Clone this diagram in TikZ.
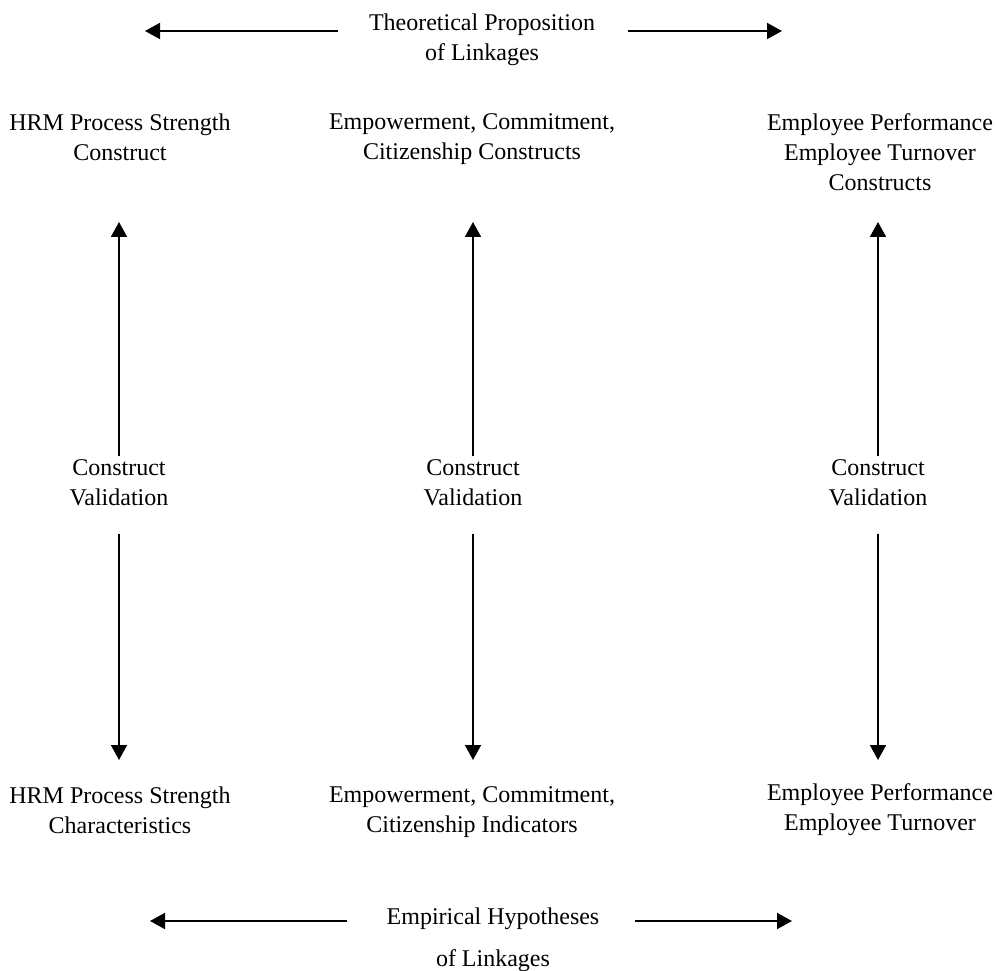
\documentclass[tikz,border=0pt]{standalone}
\usepackage{fontspec}
\setmainfont{Liberation Serif}
\usetikzlibrary{arrows.meta}
\tikzset{
  label/.style={align=center, font=\fontsize{24}{30}\selectfont},
  link/.style={-{Triangle[length=15pt,width=16pt]}, line width=1.8pt}
}
\begin{document}
\begin{tikzpicture}[x=1pt,y=-1pt]
			\useasboundingbox (0,0) rectangle (997,971);
			% linkage titles
			\node[label] (theo) at (482,40)	{Theoretical Proposition\\of Linkages};
			\node[label] (emp)  at (493,940)	{Empirical Hypotheses\\[12pt]of Linkages};
			% constructs
			\node[label] (c1) at (120,137)	{HRM Process Strength\\Construct};
			\node[label] (c2) at (472,139)	{Empowerment, Commitment,\\Citizenship Constructs};
			\node[label] (c3) at (880,152)	{Employee Performance\\Employee Turnover\\Constructs};
			% validation
			\node[label] (v1) at (119,483)	{Construct\\Validation};
			\node[label] (v2) at (473,483)	{Construct\\Validation};
			\node[label] (v3) at (878,483)	{Construct\\Validation};
			% indicators
			\node[label] (i1) at (120,810)	{HRM Process Strength\\Characteristics};
			\node[label] (i2) at (472,812)	{Empowerment, Commitment,\\Citizenship Indicators};
			\node[label] (i3) at (880,810)	{Employee Performance\\Employee Turnover};
			%
			\coordinate (tl) at (145,31);
			\coordinate (tr) at (782,31);
			\coordinate (bl) at (150,921);
			\coordinate (br) at (792,921);
			\draw[link, shorten <=27pt] (theo.west |- tl) -- (tl);
			\draw[link, shorten <=29pt] (theo.east |- tr) -- (tr);
			\draw[link, shorten <=36pt] (emp.west |- bl) -- (bl);
			\draw[link, shorten <=32pt] (emp.east |- br) -- (br);
			%
			\foreach \v\x in {v1/119, v2/473, v3/878}
			{	\draw[link] (\v.north) -- (\x,222);
				\draw[link] ([yshift=-24pt]\v.south) -- (\x,760);
			}
		\end{tikzpicture}
\end{document}
